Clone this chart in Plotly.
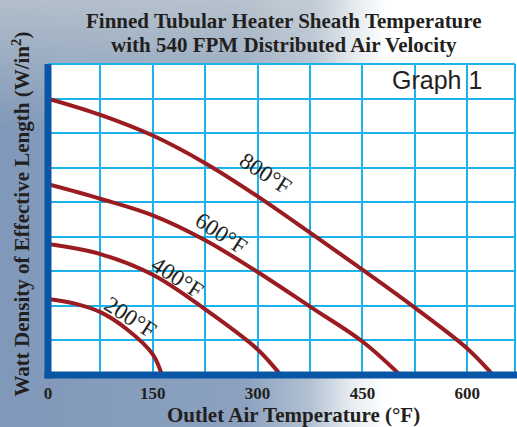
import base64
import plotly.graph_objects as go

# ---------------- data ----------------
x_ticks = [0, 150, 300, 450, 600]
x_tick_labels = ["0", "150", "300", "450", "600"]
x_minor_grid = [75, 225, 375, 525]
y_grid = [0, 1, 2, 3, 4, 5, 6, 7, 8, 9]

series_names = ["800°F", "600°F", "400°F", "200°F"]

x_800 = [0, 75, 150, 225, 300, 375, 450, 525, 600, 637]
y_800 = [8.00, 7.53, 6.93, 6.13, 5.17, 4.12, 3.05, 1.95, 0.77, 0.0]

x_600 = [0, 75, 150, 225, 300, 375, 450, 504]
y_600 = [5.52, 5.10, 4.62, 3.90, 2.98, 1.98, 0.97, 0.0]

x_400 = [0, 75, 150, 225, 300, 333]
y_400 = [3.79, 3.50, 2.90, 1.90, 0.74, 0.0]

x_200 = [0, 40, 75, 112, 150, 163]
y_200 = [2.20, 2.06, 1.82, 1.34, 0.60, 0.0]

label_x = [311, 248, 185, 118]
label_y = [5.82, 4.10, 2.82, 1.66]

# ---------------- geometry / style ----------------
W, H = 517, 427
L, R, T, B = 48, 2, 64, 52
PW, PH = W - L - R, H - T - B
XMAX = PW / 52.4 * 75

CURVE = "#9a1c20"
GRID = "#1cb3ea"
AXIS = "#0a56a6"
TEXT = "#231f20"
SERIF = "Liberation Serif"


def pxx(px):
    return (px - L) / PW


def pxy(py):
    return (H - B - py) / PH


svg = f"""<svg xmlns='http://www.w3.org/2000/svg' width='{W}' height='{H}' viewBox='0 0 {W} {H}' preserveAspectRatio='none'>
<defs>
<linearGradient id='h' x1='0' y1='0' x2='1' y2='0'>
<stop offset='0' stop-color='#8098b9'/>
<stop offset='0.47' stop-color='#8ba1bf'/>
<stop offset='0.60' stop-color='#b2c1d3'/>
<stop offset='0.68' stop-color='#e8edf2'/>
<stop offset='0.75' stop-color='#ffffff'/>
<stop offset='1' stop-color='#ffffff'/>
</linearGradient>
<linearGradient id='hm' x1='0' y1='0' x2='1' y2='0'>
<stop offset='0' stop-color='#ffffff'/>
<stop offset='0.55' stop-color='#ffffff'/>
<stop offset='0.74' stop-color='#000000'/>
</linearGradient>
<linearGradient id='v' x1='0' y1='0' x2='0' y2='1'>
<stop offset='0' stop-color='#d4d8d6' stop-opacity='0.6'/>
<stop offset='0.3' stop-color='#d4d8d6' stop-opacity='0'/>
</linearGradient>
<mask id='m'><rect width='{W}' height='{H}' fill='url(#hm)'/></mask>
</defs>
<rect width='{W}' height='{H}' fill='url(#h)'/>
<rect width='{W}' height='{H}' fill='url(#v)' mask='url(#m)'/>
</svg>"""
bg_src = "data:image/svg+xml;base64," + base64.b64encode(svg.encode()).decode()

fig = go.Figure()
for xs, ys, name in [(x_800, y_800, series_names[0]), (x_600, y_600, series_names[1]),
                     (x_400, y_400, series_names[2]), (x_200, y_200, series_names[3])]:
    fig.add_trace(go.Scatter(x=xs, y=ys, mode="lines", name=name,
                             line=dict(color=CURVE, width=4, shape="spline", smoothing=1.0),
                             hoverinfo="skip", cliponaxis=True))

annotations = []
for name, lx, ly in zip(series_names, label_x, label_y):
    annotations.append(dict(x=lx, y=ly, xref="x", yref="y", text=name, showarrow=False,
                            xanchor="center", yanchor="middle",
                            textangle=33, font=dict(family=SERIF, size=23, color=TEXT)))


def paper_text(text, px, py, size, family=SERIF, weight="bold", angle=0):
    return dict(x=pxx(px), y=pxy(py), xref="paper", yref="paper", showarrow=False,
                xanchor="center", yanchor="middle", textangle=angle, text=text,
                font=dict(family=family, size=size, color=TEXT, weight=weight))


annotations += [
    paper_text("Finned Tubular Heater Sheath Temperature", 284, 21, 21),
    paper_text("with 540 FPM Distributed Air Velocity", 284, 45, 21),
    paper_text("Outlet Air Temperature (°F)", 293, 415, 21),
    paper_text("Watt Density of Effective Length (W/in<sup>2</sup>)", 20.5, 214, 21, angle=-90),
    paper_text("Graph 1", 436.5, 80, 25, family="Liberation Sans", weight="normal"),
]

shapes = [
    dict(type="rect", xref="paper", yref="paper", x0=0, x1=1, y0=0, y1=1,
         fillcolor="white", line=dict(width=0), layer="below"),
    dict(type="line", xref="paper", yref="paper", x0=1, x1=1, y0=0, y1=1,
         line=dict(color=GRID, width=2), layer="below"),
    dict(type="line", xref="paper", yref="paper", x0=0, x1=1, y0=1, y1=1,
         line=dict(color=GRID, width=2), layer="below"),
    dict(type="line", xref="paper", yref="paper", x0=0, x1=0, y0=pxy(378.4), y1=1,
         line=dict(color=AXIS, width=7), layer="above"),
    dict(type="line", xref="paper", yref="paper", x0=pxx(44.5), x1=pxx(517), y0=0, y1=0,
         line=dict(color=AXIS, width=7), layer="above"),
]

fig.update_layout(
    width=W, height=H,
    margin=dict(l=L, r=R, t=T, b=B, pad=0),
    paper_bgcolor="white", plot_bgcolor="white",
    showlegend=False, hovermode=False,
    images=[dict(source=bg_src, xref="paper", yref="paper", x=pxx(0), y=pxy(0),
                 sizex=W / PW, sizey=H / PH, xanchor="left", yanchor="top",
                 sizing="stretch", layer="below")],
    shapes=shapes,
    annotations=annotations,
    xaxis=dict(range=[0, XMAX], tickmode="array", tickvals=x_ticks, ticktext=x_tick_labels,
               showgrid=True, gridcolor=GRID, gridwidth=2, zeroline=False, showline=False,
               minor=dict(tickmode="array", tickvals=x_minor_grid, showgrid=True,
                          gridcolor=GRID, gridwidth=2, ticks=""),
               ticks="", tickfont=dict(family=SERIF, size=17, color=TEXT, weight="bold"),
               ticklabelstandoff=6, fixedrange=True),
    yaxis=dict(range=[0, 9], tickmode="array", tickvals=y_grid, showticklabels=False,
               showgrid=True, gridcolor=GRID, gridwidth=2, zeroline=False, showline=False,
               ticks="", fixedrange=True),
)

fig.write_html("out.html", config={"displayModeBar": False},
               post_script="document.body.style.margin='0px';document.body.style.overflow='hidden';")
